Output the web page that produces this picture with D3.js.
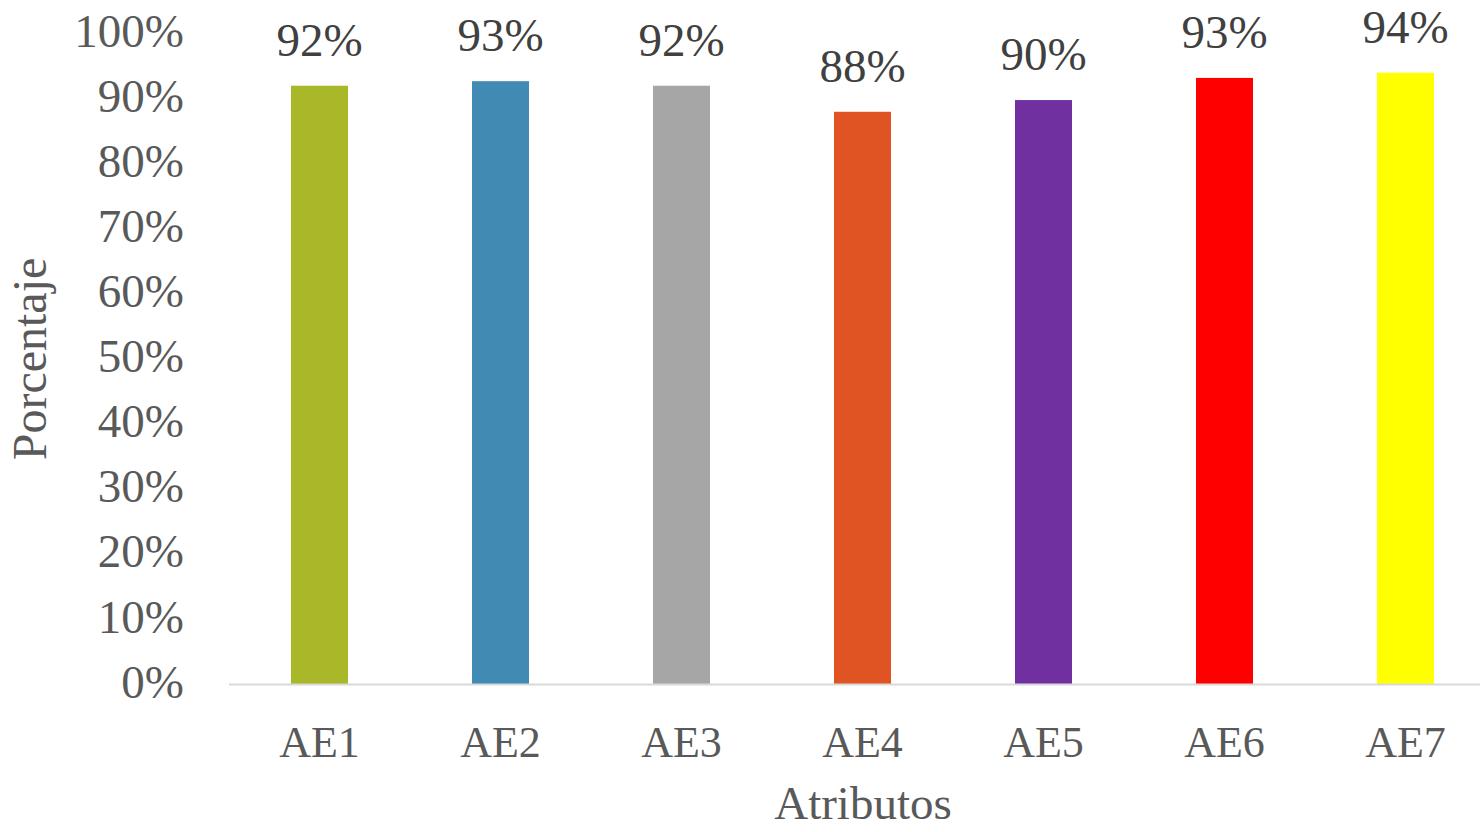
<!DOCTYPE html>
<html>
<head>
<meta charset="utf-8">
<script src="https://cdn.jsdelivr.net/npm/d3@7/dist/d3.min.js"></script>
<style>
  html, body { margin: 0; padding: 0; background: #fff; }
  svg { display: block; }
</style>
</head>
<body>
<svg id="chart" width="1480" height="832"></svg>
<script>
// Attribute categories and their share (fraction of 1)
const categories = ["AE1", "AE2", "AE3", "AE4", "AE5", "AE6", "AE7"];
const values = [0.919, 0.926, 0.919, 0.879, 0.897, 0.931, 0.939];
const barColors = ["#a8b828", "#418ab3", "#a6a6a6", "#e05424", "#7030a0", "#ff0000", "#ffff00"];
const yTicks = [0, 0.1, 0.2, 0.3, 0.4, 0.5, 0.6, 0.7, 0.8, 0.9, 1.0];
const yTitle = "Porcentaje";
const xTitle = "Atributos";

const FONT = "'Liberation Serif', 'DejaVu Serif', serif";
const svg = d3.select("#chart");
const pct = d3.format(".0%");

const x = d3.scaleBand().domain(categories).range([229, 1496]).paddingInner(0.685).paddingOuter(0.3425);
const y = d3.scaleLinear().domain([0, 1]).range([684, 33]);

// Y axis labels (no line, no ticks)
const yAxis = d3.axisLeft(y).tickValues(yTicks).tickFormat(pct).tickSize(0).tickPadding(0);
const gy = svg.append("g").attr("transform", "translate(184,0)").call(yAxis)
  .attr("font-family", FONT);
gy.select(".domain").remove();
gy.selectAll("text")
  .attr("fill", "#595959")
  .style("font-size", "47px")
  .style("font-family", FONT)
  .attr("dy", "0.28em");

// Bars
svg.append("g").selectAll("rect")
  .data(categories)
  .join("rect")
  .attr("x", d => x(d))
  .attr("width", x.bandwidth())
  .attr("y", (d, i) => y(values[i]))
  .attr("height", (d, i) => y(0) - y(values[i]))
  .attr("fill", (d, i) => barColors[i]);

// Baseline
svg.append("line")
  .attr("x1", 229).attr("x2", 1480)
  .attr("y1", y(0) + 0.5).attr("y2", y(0) + 0.5)
  .attr("stroke", "#d9d9d9").attr("stroke-width", 2);

// X axis labels
const xAxis = d3.axisBottom(x).tickSize(0).tickPadding(0);
const gx = svg.append("g").attr("transform", "translate(0,757)").call(xAxis)
  .attr("font-family", FONT);
gx.select(".domain").remove();
gx.selectAll("text")
  .attr("fill", "#595959")
  .attr("dy", 0)
  .style("font-size", "44px")
  .style("font-family", FONT);

// Value labels
svg.append("g").selectAll("text")
  .data(categories)
  .join("text")
  .attr("x", d => x(d) + x.bandwidth() / 2)
  .attr("y", (d, i) => y(values[i]) - 30)
  .attr("text-anchor", "middle")
  .attr("fill", "#404040")
  .style("font-size", "47px")
  .style("font-family", FONT)
  .text((d, i) => pct(values[i]));

// Axis titles
svg.append("text")
  .attr("transform", "translate(46,359) rotate(-90)")
  .attr("text-anchor", "middle")
  .attr("fill", "#595959")
  .style("font-size", "48px")
  .style("font-family", FONT)
  .text(yTitle);

svg.append("text")
  .attr("x", 863).attr("y", 819)
  .attr("text-anchor", "middle")
  .attr("fill", "#595959")
  .style("font-size", "47px")
  .style("font-family", FONT)
  .text(xTitle);
</script>
</body>
</html>
